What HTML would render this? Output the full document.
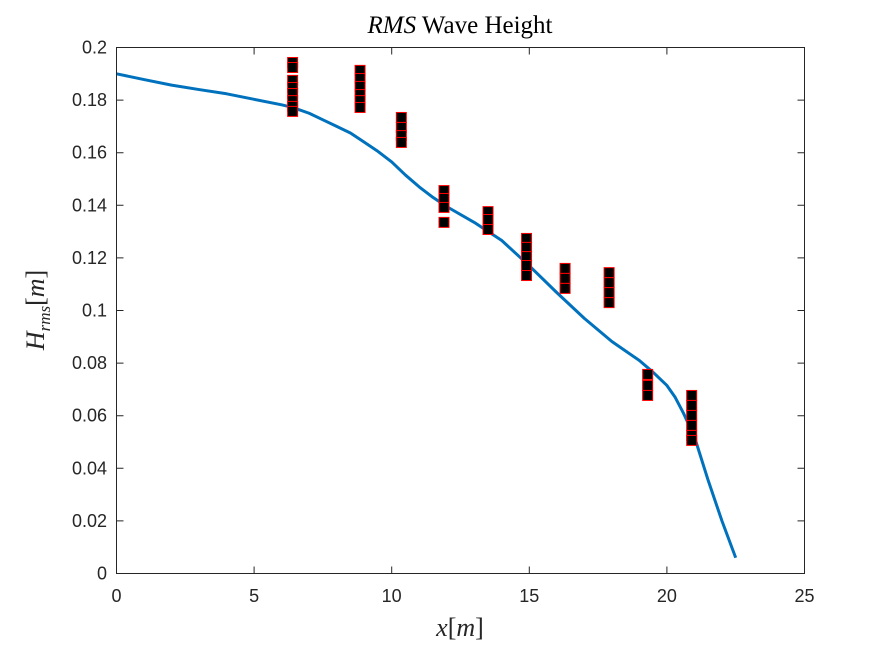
<!DOCTYPE html>
<html><head><meta charset="utf-8"><style>
body{margin:0;background:#fff;}
svg{display:block;}
.tick{font-family:"Liberation Sans",sans-serif;font-size:18px;fill:#262626;}
.math{font-family:"Liberation Serif",serif;}
</style></head><body>
<svg id="chart" width="889" height="645">
<rect width="889" height="645" fill="#fff"/>
<text x="460" y="33" text-anchor="middle" class="math" font-size="25" fill="#000"><tspan font-style="italic">RMS</tspan> Wave Height</text>
<text x="460" y="636" text-anchor="middle" class="math" font-size="26" font-style="italic" fill="#262626">x<tspan font-style="normal">[</tspan>m<tspan font-style="normal">]</tspan></text>
<text transform="translate(44,310) rotate(-90)" text-anchor="middle" class="math" font-size="26" font-style="italic" fill="#262626">H<tspan font-size="17" dy="6">rms</tspan><tspan font-style="normal" dy="-6">[</tspan>m<tspan font-style="normal">]</tspan></text>
<g id="grid"></g>
<g id="line"></g>
<g id="markers"></g>
<rect x="116.5" y="47.5" width="688" height="526" fill="none" stroke="#262626" stroke-width="1"/>
</svg>
<script>
const xTicks=[0,5,10,15,20,25];
const yTicks=[0,0.02,0.04,0.06,0.08,0.1,0.12,0.14,0.16,0.18,0.2];
const yTickLabels=["0","0.02","0.04","0.06","0.08","0.1","0.12","0.14","0.16","0.18","0.2"];
const modelX=[0,1,2,3,4,5,6,6.4,7,7.5,8,8.5,9,9.5,10,10.5,11,11.5,12,13,14,15,16,17,18,19,19.5,20,20.3,20.6,21,21.5,22,22.5];
const modelH=[0.19,0.1878,0.1857,0.1840,0.1824,0.1803,0.1782,0.1772,0.1750,0.1725,0.1700,0.1675,0.1640,0.1605,0.1565,0.1515,0.1470,0.1430,0.1395,0.1335,0.1266,0.117,0.1068,0.097,0.0882,0.081,0.0765,0.0715,0.0670,0.0610,0.0520,0.0354,0.020,0.006];
const stationX=[6.4,8.85,10.35,11.9,13.5,14.9,16.3,17.9,19.3,20.9];
const obsH=[
[0.1943,0.1924,0.1875,0.1848,0.1825,0.1798,0.1776,0.1757],
[0.1913,0.1882,0.1852,0.1821,0.1798,0.1772],
[0.1734,0.1696,0.1665,0.1639],
[0.1456,0.1426,0.1392,0.1335],
[0.1376,0.1346,0.1308],
[0.1274,0.1240,0.1205,0.1171,0.1133],
[0.116,0.1122,0.1084],
[0.1144,0.1106,0.1068,0.103],
[0.0757,0.0715,0.0677],
[0.0677,0.0639,0.0601,0.0563,0.0525,0.0506]
];
const X0=116.5,X1=804.5,Y0=573.5,Y1=47.5;
function sx(v){return X0+(v-0)/(25-0)*(X1-X0);}
function sy(v){return Y0-(v-0)/(0.2-0)*(Y0-Y1);}
const NS="http://www.w3.org/2000/svg";
const grid=document.getElementById('grid');
xTicks.forEach(function(t){
  const x=sx(t);
  const l=document.createElementNS(NS,'path');
  l.setAttribute('d','M'+x+' '+Y0+'V'+(Y0-7)+'M'+x+' '+Y1+'V'+(Y1+7));
  l.setAttribute('stroke','#262626');
  
  
  grid.appendChild(l);
  const tx=document.createElementNS(NS,'text');
  tx.setAttribute('x',x);tx.setAttribute('y',602);
  tx.setAttribute('text-anchor','middle');tx.setAttribute('class','tick');
  tx.textContent=String(t);
  
  
  grid.appendChild(tx);
});
yTicks.forEach(function(t,i){
  const y=sy(t);
  const l=document.createElementNS(NS,'path');
  l.setAttribute('d','M'+X0+' '+y+'H'+(X0+7)+'M'+X1+' '+y+'H'+(X1-7));
  l.setAttribute('stroke','#262626');
  
  
  grid.appendChild(l);
  const tx=document.createElementNS(NS,'text');
  tx.setAttribute('x',107);tx.setAttribute('y',y+6);
  tx.setAttribute('text-anchor','end');tx.setAttribute('class','tick');
  tx.textContent=yTickLabels[i];
  
  
  grid.appendChild(tx);
});
const p=document.createElementNS(NS,'polyline');
p.setAttribute('points',modelX.map(function(x,i){return sx(x)+','+sy(modelH[i]);}).join(' '));
p.setAttribute('fill','none');p.setAttribute('stroke','#0072BD');p.setAttribute('stroke-width','3');
p.setAttribute('stroke-linejoin','round');


document.getElementById('line').appendChild(p);
const mg=document.getElementById('markers');
stationX.forEach(function(x,i){
  obsH[i].forEach(function(h){
    const r=document.createElementNS(NS,'rect');
    r.setAttribute('x',sx(x)-5);r.setAttribute('y',sy(h)-5);
    r.setAttribute('width',10);r.setAttribute('height',10);
    r.setAttribute('fill','#000');r.setAttribute('stroke','#ff0000');r.setAttribute('stroke-width','1');
    
    
    mg.appendChild(r);
  });
});
</script>
</body></html>
